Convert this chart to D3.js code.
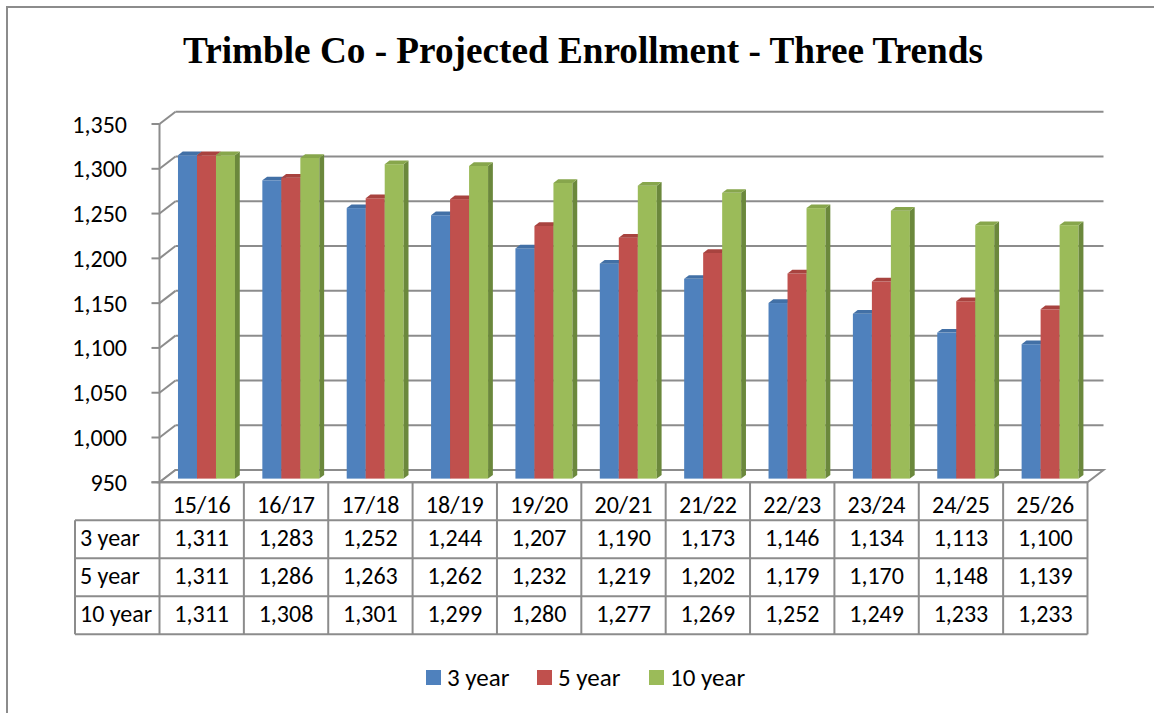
<!DOCTYPE html>
<html>
<head>
<meta charset="utf-8">
<script src="https://cdn.jsdelivr.net/npm/d3@7"></script>
<style>
  html, body { margin: 0; padding: 0; background: #fff; }
  svg { display: block; }
</style>
</head>
<body>
<div id="chart"></div>
<script>
const width = 1154
const height = 713

const title = 'Trimble Co - Projected Enrollment - Three Trends'
const categories = ['15/16', '16/17', '17/18', '18/19', '19/20', '20/21', '21/22', '22/23', '23/24', '24/25', '25/26']
const seriesNames = ['3 year', '5 year', '10 year']
const threeYear = [1311, 1283, 1252, 1244, 1207, 1190, 1173, 1146, 1134, 1113, 1100]
const fiveYear = [1311, 1286, 1263, 1262, 1232, 1219, 1202, 1179, 1170, 1148, 1139]
const tenYear = [1311, 1308, 1301, 1299, 1280, 1277, 1269, 1252, 1249, 1233, 1233]
const yTicks = [950, 1000, 1050, 1100, 1150, 1200, 1250, 1300, 1350]

const seriesValues = [threeYear, fiveYear, tenYear]
const colors = {
  front: ['#4f81bd', '#c0504d', '#9bbb59'],
  top: ['#4270a6', '#a8433f', '#87a64c'],
  side: ['#385d8a', '#8b3a37', '#6b883c']
}

const gridColor = '#8c8c8c'
const labelFont = 'Carlito, Lato, "Open Sans", sans-serif'
const labelSize = '24px'

// plot area (front plane) and 3d depth
const plotLeft = 159.5
const plotRight = 1087.5
const depth = { dx: 16, dy: -12.3 }
const barOffset = 0.3
const barDepth = 0.3

const svg = d3
  .select('#chart')
  .append('svg')
  .attr('width', width)
  .attr('height', height)

// outer frame
svg
  .append('rect')
  .attr('x', 7)
  .attr('y', 7)
  .attr('width', width + 20)
  .attr('height', height + 20)
  .attr('fill', '#fff')
  .attr('stroke', gridColor)
  .attr('stroke-width', 2)

const titleText = svg
  .append('text')
  .attr('x', 583)
  .attr('y', 63)
  .attr('text-anchor', 'middle')
  .style('font-family', '"Liberation Serif", "Times New Roman", serif')
  .style('font-weight', 'bold')
  .style('font-size', '32px')
  .text(title)
const titleLen = titleText.node().getComputedTextLength()
titleText.style('font-size', (32 * 800) / titleLen + 'px')

const y = d3.scaleLinear().domain([950, 1350]).range([482.3, 124])
const x0 = d3.scaleBand().domain(categories).range([plotLeft, plotRight])
const x1 = d3
  .scaleBand()
  .domain(d3.range(seriesNames.length))
  .range([0, x0.bandwidth()])
  .paddingOuter(0.72)

// back wall gridlines
const walls = svg.append('g')
walls
  .selectAll('.grid')
  .data(yTicks.slice(1))
  .enter()
  .append('line')
  .attr('x1', plotLeft + depth.dx)
  .attr('x2', plotRight + depth.dx)
  .attr('y1', d => y(d) + depth.dy)
  .attr('y2', d => y(d) + depth.dy)
  .attr('stroke', gridColor)
  .attr('stroke-width', 2)

// side wall lines
walls
  .selectAll('.side')
  .data(yTicks)
  .enter()
  .append('line')
  .attr('x1', plotLeft)
  .attr('x2', plotLeft + depth.dx)
  .attr('y1', d => y(d))
  .attr('y2', d => y(d) + depth.dy)
  .attr('stroke', gridColor)
  .attr('stroke-width', 2)

// floor
const fy = y(950)
walls
  .append('polygon')
  .attr('points', [
    [plotLeft, fy],
    [plotRight, fy],
    [plotRight + depth.dx, fy + depth.dy],
    [plotLeft + depth.dx, fy + depth.dy]
  ].map(p => p.join(',')).join(' '))
  .attr('fill', '#fff')
  .attr('stroke', gridColor)
  .attr('stroke-width', 2)

// bars
const ox = depth.dx * barOffset
const oy = depth.dy * barOffset
const bx = depth.dx * barDepth
const by = depth.dy * barDepth
const bw = x1.bandwidth()

const bars = []
categories.forEach((c, i) => {
  seriesValues.forEach((vals, s) => {
    bars.push({ cat: c, s, value: vals[i] })
  })
})

const barG = svg
  .selectAll('.bar')
  .data(bars)
  .enter()
  .append('g')
  .attr('class', 'bar')

barG.each(function (d) {
  const g = d3.select(this)
  const left = x0(d.cat) + x1(d.s) + ox
  const right = left + bw
  const top = y(d.value) + oy
  const bottom = y(950) + oy
  g.append('rect')
    .attr('x', left)
    .attr('y', top)
    .attr('width', bw)
    .attr('height', bottom - top)
    .attr('fill', colors.front[d.s])
  g.append('polygon')
    .attr('points', [
      [right, top],
      [right + bx, top + by],
      [right + bx, bottom + by],
      [right, bottom]
    ].map(p => p.join(',')).join(' '))
    .attr('fill', colors.side[d.s])
  g.append('polygon')
    .attr('points', [
      [left, top],
      [left + bx, top + by],
      [right + bx, top + by],
      [right, top]
    ].map(p => p.join(',')).join(' '))
    .attr('fill', colors.top[d.s])
})

// front value axis
const axisG = svg.append('g')
axisG
  .append('line')
  .attr('x1', plotLeft)
  .attr('x2', plotLeft)
  .attr('y1', y(1350))
  .attr('y2', y(950))
  .attr('stroke', gridColor)
  .attr('stroke-width', 2)
axisG
  .selectAll('.tick')
  .data(yTicks)
  .enter()
  .append('line')
  .attr('x1', plotLeft - 8)
  .attr('x2', plotLeft)
  .attr('y1', d => y(d))
  .attr('y2', d => y(d))
  .attr('stroke', gridColor)
  .attr('stroke-width', 2)
axisG
  .selectAll('.label')
  .data(yTicks)
  .enter()
  .append('text')
  .attr('x', 127)
  .attr('y', d => y(d) + 8.5)
  .attr('text-anchor', 'end')
  .style('font-family', labelFont)
  .style('font-size', labelSize)
  .text(d3.format(','))

// data table
const tableTop = y(950)
const rowH = 38
const labelLeft = 75
const table = svg.append('g')
const lineStyle = sel => sel.attr('stroke', gridColor).attr('stroke-width', 2)

// horizontal lines
table.append('line').attr('x1', plotLeft - 8).attr('x2', plotRight).attr('y1', tableTop).attr('y2', tableTop).call(lineStyle)
d3.range(1, seriesNames.length + 2).forEach(r => {
  table
    .append('line')
    .attr('x1', labelLeft)
    .attr('x2', plotRight)
    .attr('y1', tableTop + r * rowH)
    .attr('y2', tableTop + r * rowH)
    .call(lineStyle)
})
// vertical lines
const tableBottom = tableTop + (seriesNames.length + 1) * rowH
categories.forEach(c => {
  table.append('line').attr('x1', x0(c)).attr('x2', x0(c)).attr('y1', tableTop).attr('y2', tableBottom).call(lineStyle)
})
table.append('line').attr('x1', plotRight).attr('x2', plotRight).attr('y1', tableTop).attr('y2', tableBottom).call(lineStyle)
table.append('line').attr('x1', labelLeft).attr('x2', labelLeft).attr('y1', tableTop + rowH).attr('y2', tableBottom).call(lineStyle)

table
  .selectAll('.cat')
  .data(categories)
  .enter()
  .append('text')
  .attr('x', d => x0(d) + x0.bandwidth() / 2)
  .attr('y', tableTop + 31)
  .attr('text-anchor', 'middle')
  .style('font-family', labelFont)
  .style('font-size', labelSize)
  .text(d => d)

seriesNames.forEach((name, s) => {
  const rowY = tableTop + (s + 1) * rowH
  table
    .append('text')
    .attr('x', labelLeft + 5)
    .attr('y', rowY + 26)
    .style('font-family', labelFont)
    .style('font-size', labelSize)
    .text(name)
  table
    .selectAll('.val' + s)
    .data(seriesValues[s])
    .enter()
    .append('text')
    .attr('x', (d, i) => x0(categories[i]) + x0.bandwidth() / 2)
    .attr('y', rowY + 26)
    .attr('text-anchor', 'middle')
    .style('font-family', labelFont)
    .style('font-size', labelSize)
    .text(d3.format(','))
})

// legend
const legendX = [426, 537, 649]
const legend = svg
  .selectAll('.legend')
  .data(seriesNames)
  .enter()
  .append('g')
  .attr('transform', (d, i) => `translate(${legendX[i]}, 670)`)
legend
  .append('rect')
  .attr('width', 15)
  .attr('height', 15)
  .attr('fill', (d, i) => colors.front[i])
legend
  .append('text')
  .attr('x', 21)
  .attr('y', 16)
  .style('font-family', labelFont)
  .style('font-size', '25px')
  .text(d => d)
</script>
</body>
</html>
